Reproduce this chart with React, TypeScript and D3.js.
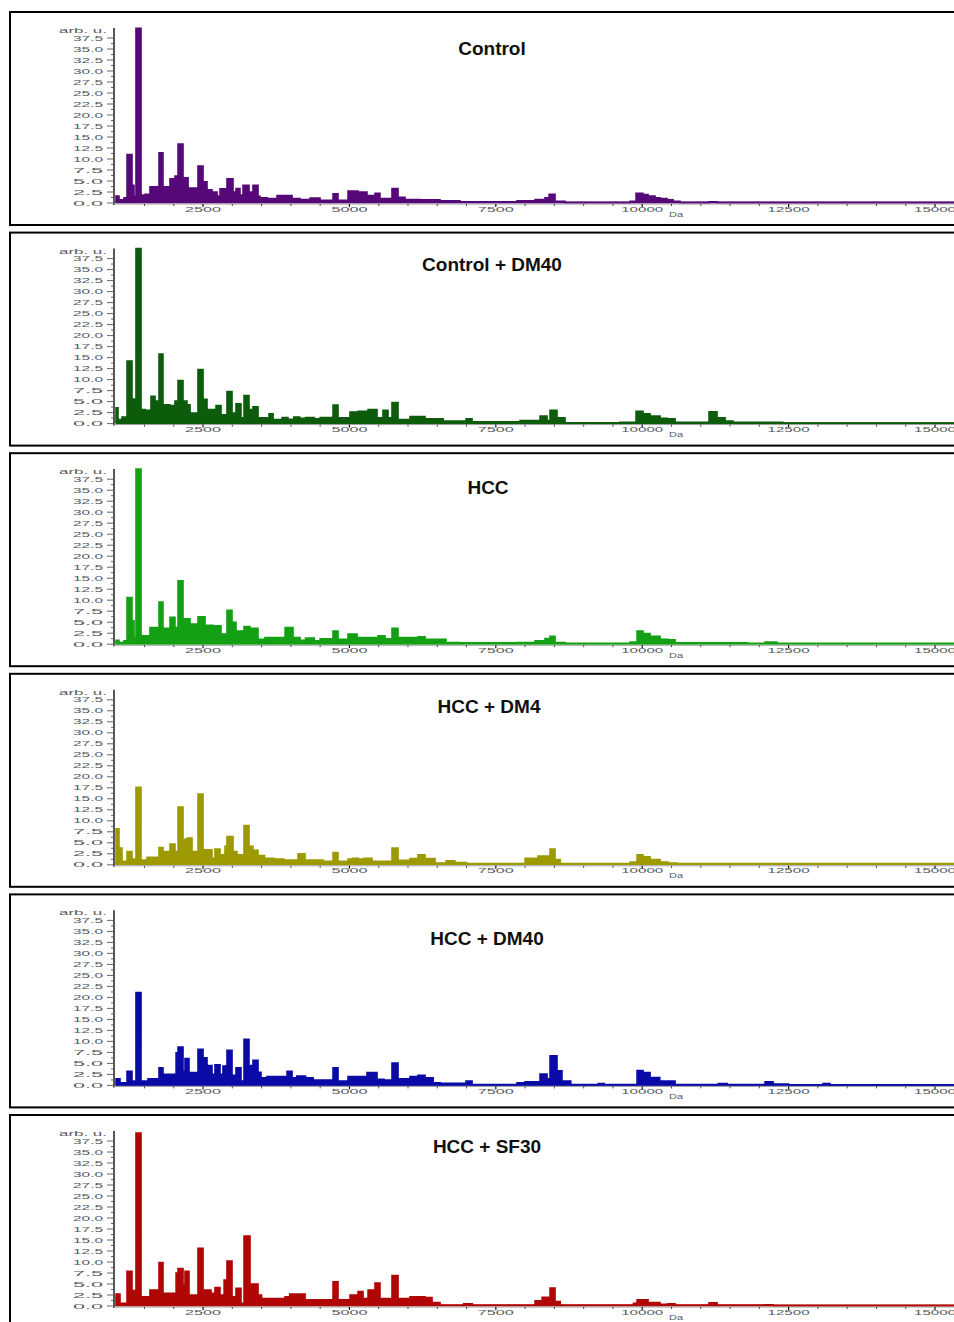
import * as d3 from 'd3';
import React, { useRef, useEffect } from 'react';

// spectra: [mass in Da, intensity in arb. u.], drawn as steps
const controlSpectrum = [
  [1000, 0.2], [1014, 1.6], [1065, 0.7], [1150, 1.2], [1202, 11], [1287, 4.0], [1321, 1.5], [1355, 39.7], [1441, 1.8],
  [1509, 2.0], [1594, 3.7], [1748, 11.4], [1816, 3.7], [1936, 5.5], [2021, 6.1], [2073, 13.4], [2158, 5.7], [2245, 3.4],
  [2414, 8.4], [2500, 4.8], [2568, 3.0], [2653, 2.5], [2740, 1.6], [2790, 3.2], [2909, 5.5], [3012, 2.5], [3063, 3.3],
  [3131, 1.8], [3183, 4.0], [3285, 2.5], [3353, 4.0], [3439, 1.5], [3473, 1.2], [3595, 1.0], [3764, 1.7], [4020, 1.0],
  [4157, 0.8], [4327, 1.1], [4498, 0.6], [4720, 2.1], [4805, 0.6], [4976, 2.7], [5147, 2.5], [5300, 1.7], [5437, 2.2],
  [5522, 1.0], [5727, 3.3], [5830, 1.3], [5949, 0.8], [6206, 0.7], [6547, 0.5], [6889, 0.3], [7862, 0.5], [8170, 0.8],
  [8340, 1.2], [8410, 2.0], [8511, 0.4], [8682, 0.15], [9792, 0.4], [9895, 2.2], [10014, 1.9], [10100, 1.6], [10219, 1.2],
  [10305, 1.0], [10424, 0.7], [10527, 0.4], [10646, 0.15], [11141, 0.3], [11278, 0.15], [15600, 0.15],
];

const controlDm40Spectrum = [
  [1000, 0.3], [1014, 3.6], [1048, 0.9], [1116, 1.5], [1202, 14.2], [1287, 5.6], [1355, 39.8], [1441, 3.2], [1509, 3.0],
  [1611, 6.2], [1680, 5.1], [1748, 15.8], [1816, 4.3], [1936, 4.1], [2021, 5.1], [2073, 9.8], [2158, 5.1], [2226, 4.3],
  [2278, 2.4], [2414, 12.3], [2500, 5.5], [2568, 3.2], [2722, 4.1], [2807, 2.0], [2909, 7.3], [2995, 2.4], [3063, 4.5],
  [3148, 1.3], [3200, 6.4], [3285, 3.2], [3353, 3.8], [3439, 1.3], [3627, 2.2], [3696, 0.9], [3850, 1.4], [3950, 1.0],
  [4050, 1.5], [4150, 1.2], [4250, 1.4], [4400, 1.1], [4500, 1.4], [4720, 4.2], [4805, 1.3], [5010, 2.6], [5147, 2.8],
  [5318, 3.2], [5471, 1.3], [5573, 3.0], [5659, 1.3], [5727, 4.8], [5830, 0.9], [6035, 1.6], [6291, 1.1], [6600, 0.6],
  [6992, 1.1], [7094, 0.4], [7914, 0.7], [8255, 1.7], [8375, 0.7], [8426, 3.0], [8545, 1.3], [8682, 0.2], [9621, 0.3],
  [9895, 2.8], [10014, 2.2], [10134, 1.7], [10305, 1.2], [10424, 0.8], [10441, 1.1], [10561, 0.3], [11141, 2.7],
  [11278, 1.3], [11415, 0.6], [11551, 0.3], [12098, 0.3], [12400, 0.15], [15600, 0.15],
];

const hccSpectrum = [
  [1000, 0.2], [1014, 0.9], [1065, 0.4], [1150, 0.8], [1202, 10.6], [1287, 5.3], [1321, 1.5], [1355, 39.8], [1441, 1.9],
  [1594, 3.8], [1748, 9.6], [1816, 3.6], [1936, 6.1], [2021, 3.8], [2073, 14.4], [2158, 5.8], [2278, 4.6], [2414, 6.2],
  [2534, 4.3], [2670, 4.2], [2807, 2.3], [2909, 7.7], [2995, 5.0], [3063, 3.0], [3200, 4.0], [3302, 3.6], [3439, 1.1],
  [3558, 1.5], [3901, 3.8], [4037, 1.5], [4157, 0.9], [4250, 1.4], [4400, 0.8], [4500, 1.2], [4720, 3.0], [4805, 1.1],
  [4976, 2.3], [5130, 1.5], [5488, 1.9], [5608, 1.2], [5727, 3.6], [5830, 1.5], [6035, 1.5], [6171, 1.7], [6291, 1.1],
  [6650, 0.4], [6900, 0.3], [7862, 0.4], [8170, 0.8], [8340, 1.3], [8426, 1.8], [8511, 0.4], [8682, 0.2], [9792, 0.5],
  [9912, 3.0], [10014, 2.4], [10134, 1.8], [10305, 1.1], [10441, 1.0], [10561, 0.3], [11800, 0.2], [12098, 0.5],
  [12300, 0.2], [15600, 0.2],
];

const hccDm4Spectrum = [
  [1000, 0.3], [1014, 8.2], [1065, 3.8], [1116, 0.8], [1202, 3.0], [1287, 1.3], [1355, 17.6], [1441, 1.1], [1543, 1.7],
  [1748, 3.9], [1816, 3.0], [1936, 4.7], [2021, 3.0], [2073, 13.1], [2158, 5.8], [2226, 6.1], [2312, 3.0], [2414, 16.1],
  [2500, 3.4], [2568, 3.4], [2653, 1.5], [2704, 3.6], [2790, 2.3], [2875, 4.2], [2909, 6.4], [3012, 3.0], [3080, 2.3],
  [3200, 8.9], [3285, 4.2], [3353, 3.3], [3439, 2.1], [3550, 1.5], [3720, 1.3], [3880, 1.1], [4122, 2.5], [4242, 1.1],
  [4550, 0.8], [4720, 2.8], [4805, 0.8], [4976, 1.3], [5050, 1.5], [5150, 1.3], [5250, 1.5], [5386, 0.8], [5727, 3.8],
  [5830, 1.0], [6035, 1.4], [6171, 2.3], [6291, 1.4], [6462, 0.4], [6650, 0.9], [6800, 0.5], [7000, 0.3], [8000, 1.5],
  [8221, 2.0], [8426, 3.6], [8511, 1.2], [8600, 0.3], [9792, 0.6], [9912, 2.3], [10014, 1.8], [10134, 1.2], [10305, 0.6],
  [10441, 0.4], [10600, 0.3], [15600, 0.3],
];

const hccDm40Spectrum = [
  [1000, 0.2], [1014, 1.5], [1082, 0.6], [1202, 3.2], [1287, 1.0], [1355, 21.1], [1441, 1.0], [1560, 1.5], [1748, 4.0],
  [1816, 2.5], [2040, 7.4], [2073, 8.7], [2158, 3.2], [2192, 6.1], [2260, 2.9], [2414, 8.2], [2500, 6.3], [2568, 4.5],
  [2653, 2.5], [2704, 4.7], [2790, 2.5], [2840, 4.4], [2909, 8.0], [2995, 2.3], [3063, 4.0], [3148, 1.0], [3200, 10.5],
  [3285, 4.5], [3353, 5.7], [3439, 3.0], [3490, 1.7], [3590, 2.0], [3935, 3.2], [4020, 1.7], [4100, 2.1], [4250, 1.7],
  [4380, 1.2], [4720, 4.0], [4805, 1.0], [4976, 2.0], [5300, 2.9], [5471, 1.4], [5590, 1.2], [5727, 5.1], [5830, 1.5],
  [6035, 2.0], [6171, 2.3], [6291, 1.7], [6430, 0.6], [6550, 0.5], [6992, 1.0], [7094, 0.2], [7862, 0.6], [8000, 0.8],
  [8255, 2.6], [8375, 1.5], [8426, 6.7], [8545, 3.3], [8630, 1.0], [8780, 0.2], [9250, 0.4], [9350, 0.2], [9912, 3.4],
  [10014, 2.9], [10134, 1.8], [10300, 1.0], [10441, 1.0], [10561, 0.2], [11300, 0.4], [11450, 0.2], [12098, 0.8],
  [12234, 0.3], [12500, 0.15], [13088, 0.4], [13207, 0.15], [15600, 0.15],
];

const hccSf30Spectrum = [
  [1000, 0.2], [1014, 2.7], [1082, 0.6], [1202, 7.9], [1287, 3.5], [1355, 39.3], [1441, 2.1], [1594, 3.6], [1748, 9.9],
  [1816, 2.9], [2040, 7.5], [2073, 8.5], [2158, 4.8], [2192, 7.9], [2260, 2.5], [2414, 13.1], [2500, 3.6], [2636, 2.9],
  [2704, 4.2], [2790, 2.5], [2860, 5.9], [2909, 10.2], [2995, 2.1], [3063, 4.0], [3148, 0.6], [3200, 15.9], [3302, 5.0],
  [3439, 2.5], [3500, 1.7], [3900, 2.1], [3980, 2.7], [4242, 1.4], [4720, 5.5], [4805, 1.4], [5010, 2.5], [5147, 3.3],
  [5232, 1.7], [5318, 3.6], [5437, 5.2], [5522, 1.7], [5727, 6.9], [5830, 1.7], [6035, 2.1], [6291, 1.9], [6411, 0.8],
  [6547, 0.2], [6950, 0.5], [7100, 0.2], [8170, 1.2], [8290, 2.0], [8426, 4.1], [8511, 1.0], [8600, 0.2], [9850, 0.6],
  [9912, 1.4], [10100, 0.8], [10305, 0.4], [10424, 0.2], [10441, 0.5], [10561, 0.2], [11141, 0.7], [11278, 0.2],
  [12098, 0.3], [12234, 0.15], [15600, 0.15],
];

const panelTitles = ['Control', 'Control + DM40', 'HCC', 'HCC + DM4', 'HCC + DM40', 'HCC + SF30'];
const panelSpectra = [controlSpectrum, controlDm40Spectrum, hccSpectrum, hccDm4Spectrum, hccDm40Spectrum, hccSf30Spectrum];
const panelColors = ['#560879', '#0c5c0c', '#14a014', '#9c9a00', '#0a0aa6', '#b00606'];
const yTickValues = [0, 2.5, 5, 7.5, 10, 12.5, 15, 17.5, 20, 22.5, 25, 27.5, 30, 32.5, 35, 37.5];
const xTickValues = [2500, 5000, 7500, 10000, 12500, 15000];

// layout
const W = 954;
const H = 1322;
const panelTop0 = 12;
const panelStep = 220.6;
const panelHeight = 213;
const baseOffset = 191;
const titleOffsets = [43, 38, 41, 39, 51, 38];
const titleX = [492, 492, 488, 489, 487, 487];

const Chart = () => {
  const ref = useRef(null);

  const draw = () => {
    const svg = d3.select(ref.current);
    svg.selectAll('*').remove();

    const x = d3.scaleLinear().domain([1000, 15000]).range([115.2, 935]);
    const fmt = d3.format('.1f');
    const minorX = d3.range(1500, 15600, 500).filter((v) => v % 2500 !== 0);
    const minorY = d3.range(1.25, 38, 2.5);
    const font = 'Arial, "Liberation Sans", sans-serif';

    panelSpectra.forEach((spec, i) => {
      const top = panelTop0 + i * panelStep;
      const base = top + baseOffset;
      const y = d3.scaleLinear().domain([0, 37.5]).range([base, base - 165]);
      const g = svg.append('g');
      const color = panelColors[i];

      g.append('rect')
        .attr('x', 10)
        .attr('y', top)
        .attr('width', 980)
        .attr('height', panelHeight)
        .attr('fill', 'white')
        .attr('stroke', '#000')
        .attr('stroke-width', 2);

      // y axis
      g.append('line')
        .attr('x1', 114).attr('x2', 114)
        .attr('y1', y(39.8)).attr('y2', base + 2)
        .attr('stroke', '#111').attr('stroke-width', 1.4);
      g.selectAll('.ytick').data(yTickValues).enter().append('line')
        .attr('x1', 107).attr('x2', 114)
        .attr('y1', (d) => y(d)).attr('y2', (d) => y(d))
        .attr('stroke', '#555').attr('stroke-width', 0.9);
      g.selectAll('.yminor').data(minorY).enter().append('line')
        .attr('x1', 111).attr('x2', 114)
        .attr('y1', (d) => y(d)).attr('y2', (d) => y(d))
        .attr('stroke', '#555').attr('stroke-width', 0.9);
      g.selectAll('.ylab').data(yTickValues).enter().append('text')
        .attr('x', 103)
        .attr('y', (d) => y(d) + 2.5)
        .attr('text-anchor', 'end')
        .attr('font-family', font)
        .attr('font-size', 6.8)
        .attr('fill', '#5a5a5a')
        .attr('textLength', 30)
        .attr('lengthAdjust', 'spacingAndGlyphs')
        .text((d) => fmt(d));
      g.append('text')
        .attr('x', 107)
        .attr('y', top + 21)
        .attr('text-anchor', 'end')
        .attr('font-family', font)
        .attr('font-size', 6.8)
        .attr('fill', '#5a5a5a')
        .attr('textLength', 48)
        .attr('lengthAdjust', 'spacingAndGlyphs')
        .text('arb. u.');

      // x axis
      g.append('line')
        .attr('x1', 114).attr('x2', W)
        .attr('y1', base + 1).attr('y2', base + 1)
        .attr('stroke', '#999').attr('stroke-width', 1);
      g.selectAll('.xtick').data(xTickValues).enter().append('line')
        .attr('x1', (d) => x(d)).attr('x2', (d) => x(d))
        .attr('y1', base + 1).attr('y2', base + 4)
        .attr('stroke', '#111').attr('stroke-width', 1.2);
      g.selectAll('.xminor').data(minorX).enter().append('line')
        .attr('x1', (d) => x(d)).attr('x2', (d) => x(d))
        .attr('y1', base + 1).attr('y2', base + 3)
        .attr('stroke', '#444').attr('stroke-width', 1);
      g.selectAll('.xlab').data(xTickValues).enter().append('text')
        .attr('x', (d) => x(d))
        .attr('y', base + 8.5)
        .attr('text-anchor', 'middle')
        .attr('font-family', font)
        .attr('font-size', 6.8)
        .attr('fill', '#5a5a5a')
        .attr('textLength', (d) => (d >= 10000 ? 42 : 36))
        .attr('lengthAdjust', 'spacingAndGlyphs')
        .text((d) => String(d));
      g.append('text')
        .attr('x', 676)
        .attr('y', base + 13.5)
        .attr('text-anchor', 'middle')
        .attr('font-family', font)
        .attr('font-size', 6.8)
        .attr('fill', '#5a5a5a')
        .attr('textLength', 14)
        .attr('lengthAdjust', 'spacingAndGlyphs')
        .text('Da');

      // spectrum
      const area = d3.area()
        .x((d) => x(d[0]))
        .y0(base)
        .y1((d) => y(d[1]))
        .curve(d3.curveStepAfter);
      const line = d3.line()
        .x((d) => x(d[0]))
        .y((d) => y(d[1]))
        .curve(d3.curveStepAfter);
      g.append('path')
        .datum(spec)
        .attr('d', area)
        .attr('fill', color);
      g.append('path')
        .datum(spec)
        .attr('d', line)
        .attr('fill', 'none')
        .attr('stroke', color)
        .attr('stroke-width', 1.6);
      g.append('line')
        .attr('x1', 116).attr('x2', W)
        .attr('y1', base - 0.5).attr('y2', base - 0.5)
        .attr('stroke', color).attr('stroke-width', 1.6);

      g.append('text')
        .attr('x', titleX[i])
        .attr('y', top + titleOffsets[i])
        .attr('text-anchor', 'middle')
        .attr('font-family', font)
        .attr('font-weight', 'bold')
        .attr('font-size', 19)
        .attr('fill', '#111')
        .text(panelTitles[i]);
    });
  };

  useEffect(() => {
    d3.select(ref.current)
      .attr('width', W)
      .attr('height', H);
    draw();
  }, []);

  return (
    <div style={{ position: 'absolute', left: 0, top: 0, width: W, height: H, overflow: 'hidden', background: '#fff' }}>
      <svg ref={ref} style={{ display: 'block' }} />
    </div>
  );
};

export default function App() {
  return <Chart />;
}
